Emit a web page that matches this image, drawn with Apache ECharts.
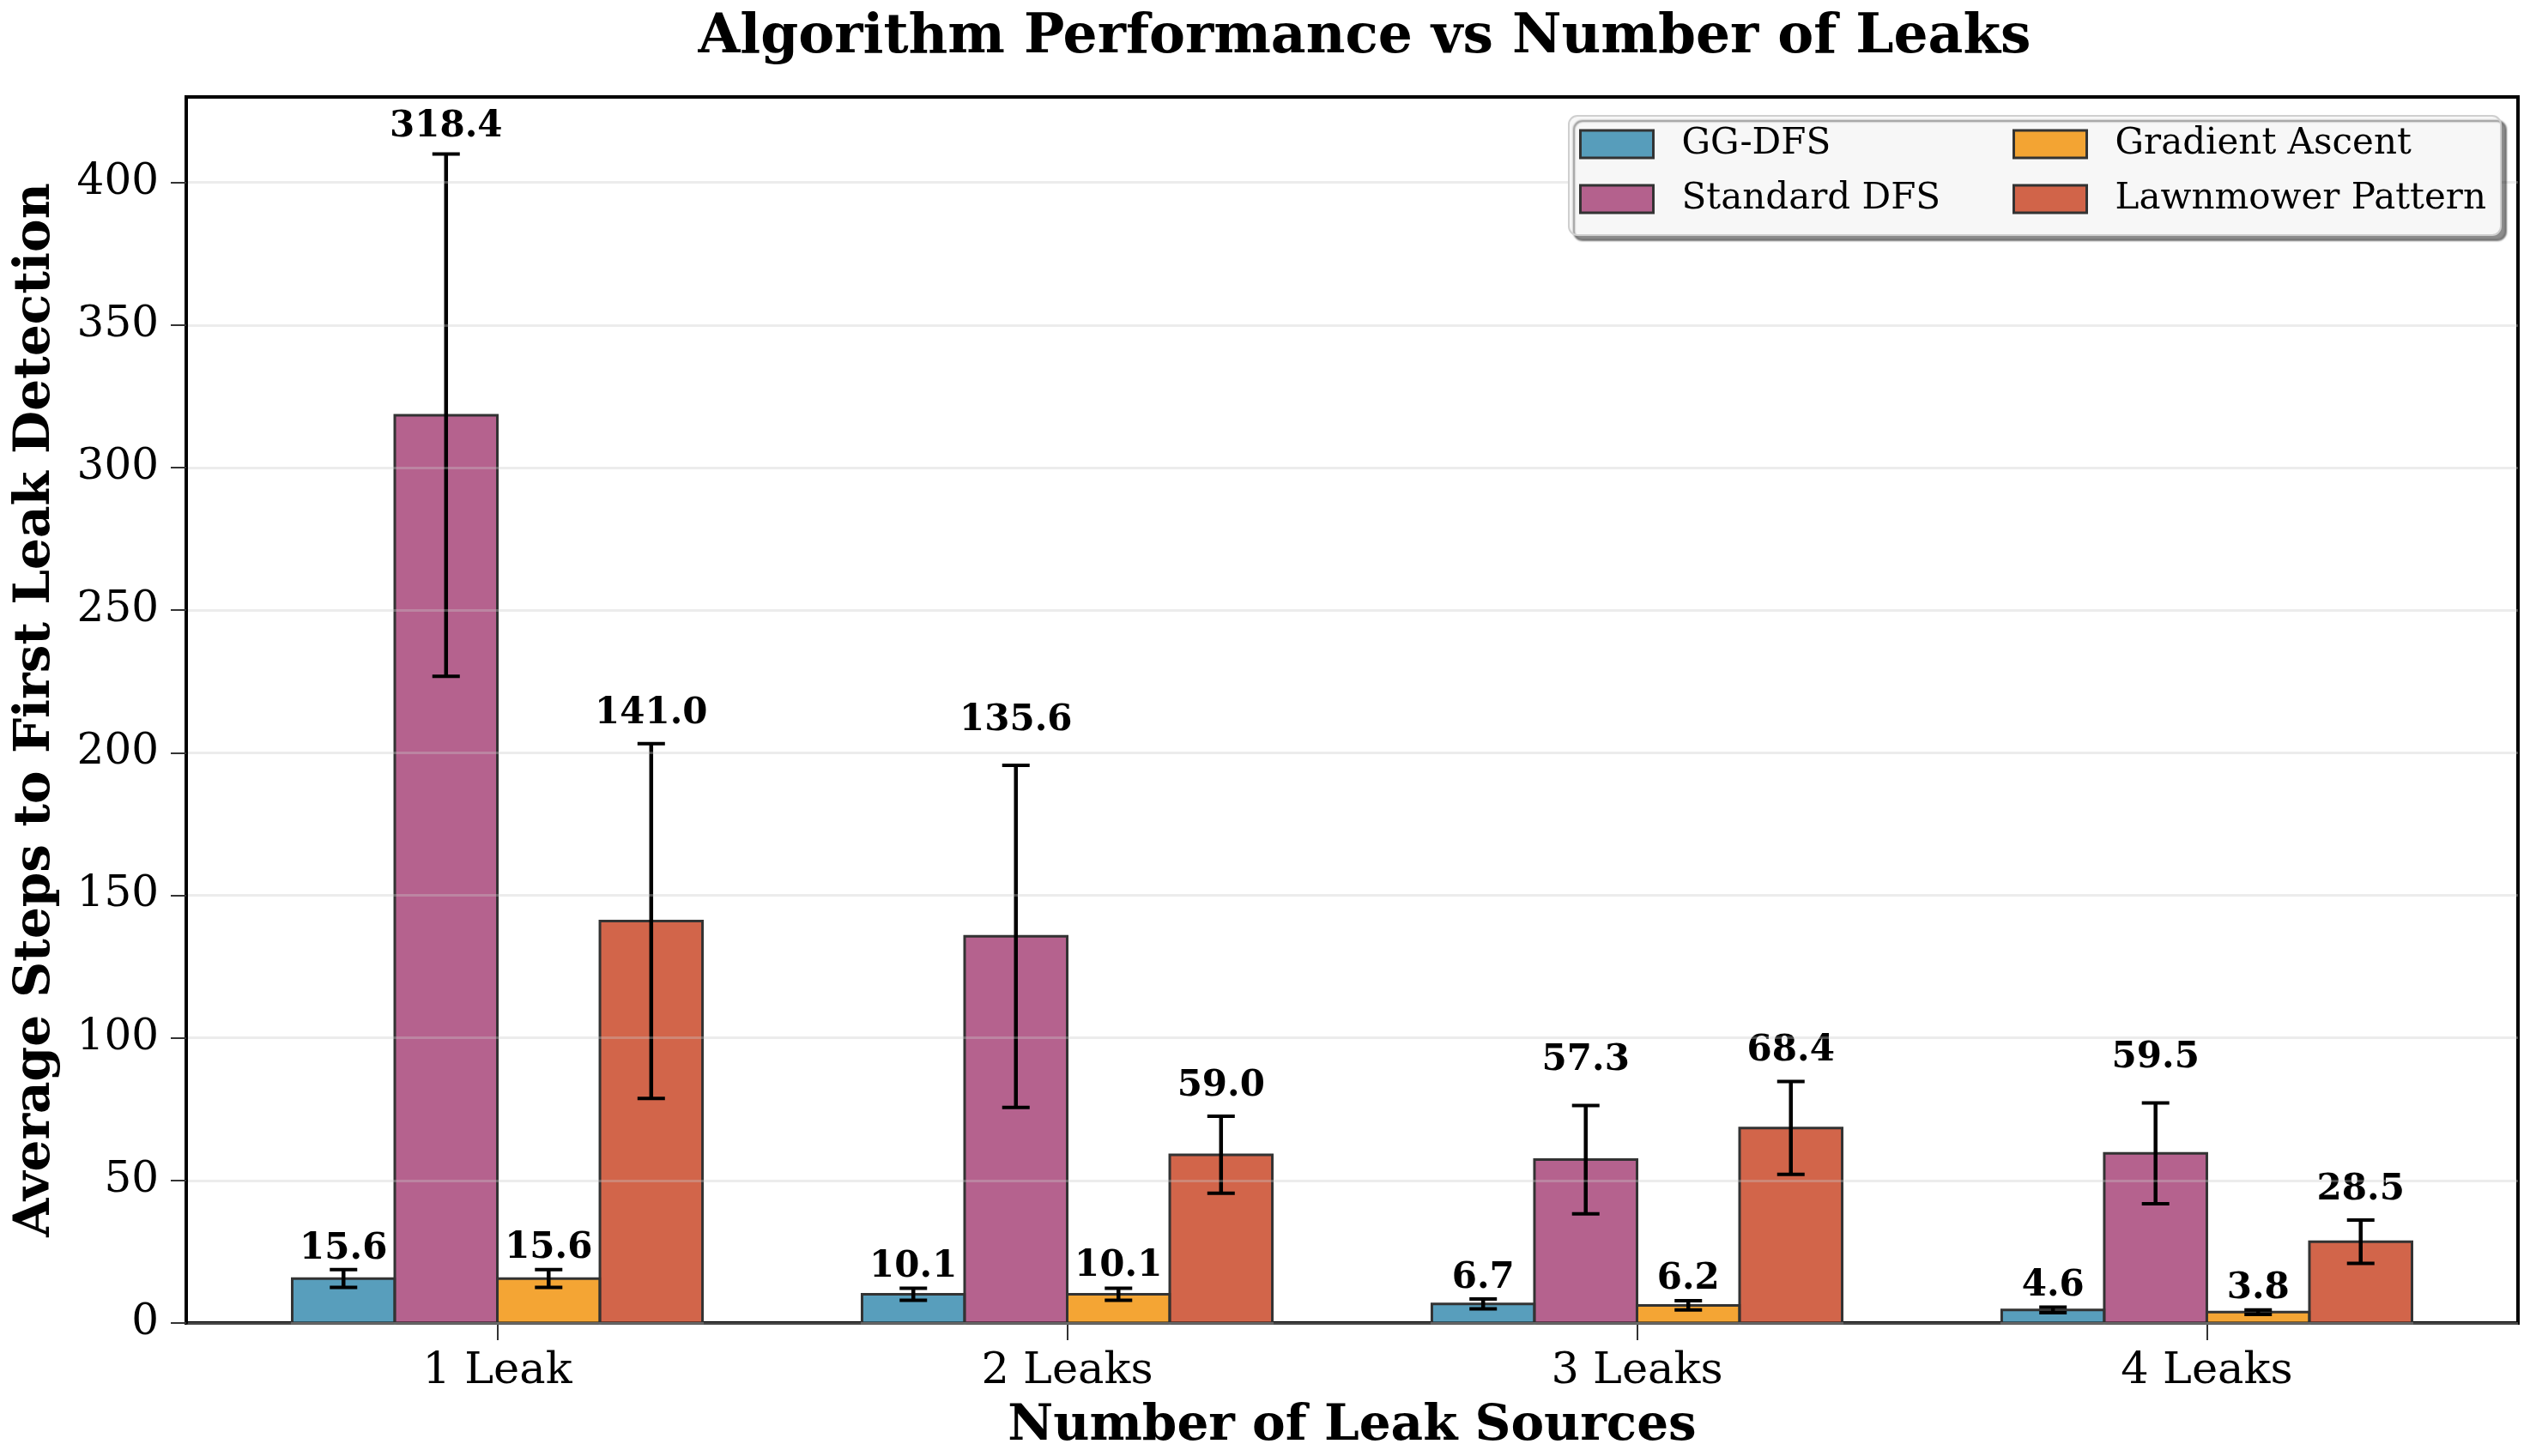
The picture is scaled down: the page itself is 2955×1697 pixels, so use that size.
<!DOCTYPE html>
<html>
<head>
<meta charset="utf-8">
<script src="https://cdn.jsdelivr.net/npm/echarts@6/dist/echarts.min.js"></script>
<style>
html,body{margin:0;padding:0;background:#fff;}
#chart{width:2955px;height:1697px;}
</style>
</head>
<body>
<div id="chart"></div>
<script>
const categories = ['1 Leak', '2 Leaks', '3 Leaks', '4 Leaks'];
const seriesNames = ['GG-DFS', 'Standard DFS', 'Gradient Ascent', 'Lawnmower Pattern'];
const ggDfs = [15.6, 10.1, 6.7, 4.6];
const ggDfsErr = [3.1, 2.1, 1.7, 1.0];
const standardDfs = [318.4, 135.6, 57.3, 59.5];
const standardDfsErr = [91.6, 60.0, 19.0, 17.7];
const gradientAscent = [15.6, 10.1, 6.2, 3.8];
const gradientAscentErr = [3.1, 2.1, 1.6, 0.8];
const lawnmower = [141.0, 59.0, 68.4, 28.5];
const lawnmowerErr = [62.2, 13.5, 16.3, 7.6];
const yTickValues = [0, 50, 100, 150, 200, 250, 300, 350, 400];

const values = [ggDfs, standardDfs, gradientAscent, lawnmower];
const errors = [ggDfsErr, standardDfsErr, gradientAscentErr, lawnmowerErr];
const colors = ['rgba(46,134,171,0.8)', 'rgba(162,59,114,0.8)', 'rgba(241,143,1,0.8)', 'rgba(199,62,29,0.8)'];
const barW = 0.18;
const offsets = [-1.5, -0.5, 0.5, 1.5].map(k => k * barW);
const labelPad = [3, 31, 4, 14];
const FONT = '"DejaVu Serif", serif';

const chart = echarts.init(document.getElementById('chart'), null, {renderer: 'canvas'});

function makeRender(si) {
  return function (params, api) {
    const xi = api.value(0), v = api.value(1), e = api.value(2);
    const cxVal = xi + offsets[si];
    const tl = api.coord([cxVal - barW / 2, v]);
    const br = api.coord([cxVal + barW / 2, 0]);
    const c = api.coord([cxVal, v]);
    const top = api.coord([cxVal, v + e])[1];
    const bot = api.coord([cxVal, v - e])[1];
    const gridTop = params.coordSys.y;
    const ly = Math.max(top - labelPad[si], gridTop + 56);
    return {
      type: 'group',
      children: [
        {type: 'rect', shape: {x: tl[0], y: tl[1], width: br[0] - tl[0], height: br[1] - tl[1]},
         style: {fill: colors[si], stroke: '#333', lineWidth: 3}},
        {type: 'line', shape: {x1: c[0], y1: top, x2: c[0], y2: bot}, style: {stroke: '#000', lineWidth: 4.5}},
        {type: 'line', shape: {x1: c[0] - 16, y1: top, x2: c[0] + 16, y2: top}, style: {stroke: '#000', lineWidth: 4}},
        {type: 'line', shape: {x1: c[0] - 16, y1: bot, x2: c[0] + 16, y2: bot}, style: {stroke: '#000', lineWidth: 4}},
        {type: 'text', x: c[0], y: ly,
         style: {text: v.toFixed(1), fill: '#000', font: 'bold 42px ' + FONT, textAlign: 'center', textVerticalAlign: 'bottom'}}
      ]
    };
  };
}

const series = seriesNames.map((name, si) => ({
  name: name,
  type: 'custom',
  renderItem: makeRender(si),
  clip: false,
  itemStyle: {color: colors[si], borderColor: '#333', borderWidth: 3},
  encode: {x: 0, y: 1},
  data: values[si].map((v, i) => [i, v, errors[si][i]]),
  z: 2
}));

const legendCommon = {
  orient: 'vertical', top: 147, padding: 0, itemGap: 22, itemWidth: 85, itemHeight: 32,
  icon: 'rect', z: 8,
  itemStyle: {borderColor: '#333', borderWidth: 3},
  textStyle: {fontFamily: FONT, fontSize: 42, lineHeight: 42, color: '#000', padding: [0, 0, 0, 28]}
};

const option = {
  backgroundColor: '#fff',
  animation: false,
  grid: {left: 217, right: 21, top: 113, bottom: 154, show: true, borderColor: '#000', borderWidth: 4, backgroundColor: 'transparent'},
  xAxis: {
    type: 'value', min: -0.546, max: 3.546,
    axisLine: {show: true, onZero: false, lineStyle: {color: '#000', width: 4}},
    axisTick: {show: true, customValues: [0, 1, 2, 3], length: 20, lineStyle: {color: '#333', width: 2}},
    axisLabel: {customValues: [0, 1, 2, 3], formatter: v => categories[Math.round(v)] || '', fontFamily: FONT, fontSize: 51, color: '#000', margin: 31},
    splitLine: {show: false},
    name: 'Number of Leak Sources', nameLocation: 'middle', nameGap: 92,
    nameTextStyle: {fontFamily: FONT, fontWeight: 'bold', fontSize: 58, color: '#000'}
  },
  yAxis: {
    type: 'value', min: 0, max: 430, interval: 50, z: 3,
    axisLine: {show: true, onZero: false, lineStyle: {color: '#000', width: 4}},
    axisTick: {show: true, customValues: yTickValues, length: 18, lineStyle: {color: '#333', width: 2}},
    axisLabel: {customValues: yTickValues, fontFamily: FONT, fontSize: 50, color: '#000', margin: 32},
    splitLine: {show: true, lineStyle: {color: 'rgba(200,200,200,0.35)', width: 3}},
    name: 'Average Steps to First Leak Detection', nameLocation: 'middle', nameGap: 146, nameRotate: 90,
    nameTextStyle: {fontFamily: FONT, fontWeight: 'bold', fontSize: 58, color: '#000'}
  },
  legend: [
    Object.assign({}, legendCommon, {left: 1840, data: ['GG-DFS', 'Standard DFS']}),
    Object.assign({}, legendCommon, {left: 2345, data: ['Gradient Ascent', 'Lawnmower Pattern']})
  ],
  graphic: [
    {type: 'text', x: 1590, y: 45, z: 10,
     style: {text: 'Algorithm Performance vs Number of Leaks', font: 'bold 63px ' + FONT, fill: '#000', textAlign: 'center', textVerticalAlign: 'middle'}},
    {type: 'rect', z: 7, shape: {x: 1828, y: 135, width: 1086, height: 139, r: 10},
     style: {fill: 'rgba(247,247,247,1)', stroke: '#cfcfcf', lineWidth: 2, shadowColor: 'rgba(0,0,0,0.45)', shadowOffsetX: 6, shadowOffsetY: 6, shadowBlur: 2}}
  ],
  series: series
};
chart.setOption(option);
</script>
</body>
</html>
